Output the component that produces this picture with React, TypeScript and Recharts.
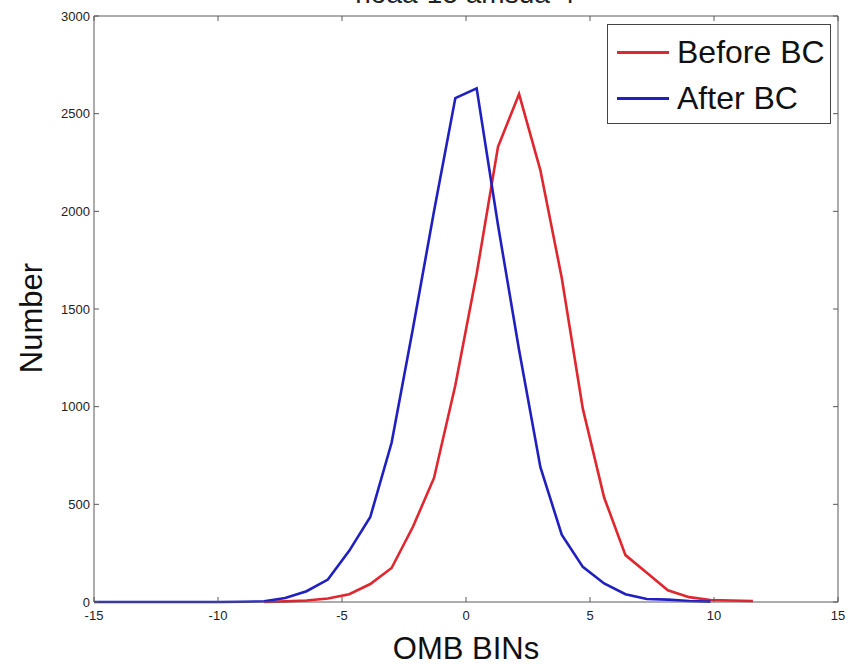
import React from 'react';
import { LineChart, Line, XAxis, YAxis } from 'recharts';

// OMB bin positions (bin edges of 35 bins spanning -15..15)
const ombBins = [
  -15, -14.14, -13.29, -12.43, -11.57, -10.71, -9.86, -9.0, -8.14, -7.29,
  -6.43, -5.57, -4.71, -3.86, -3.0, -2.14, -1.29, -0.43, 0.43, 1.29,
  2.14, 3.0, 3.86, 4.71, 5.57, 6.43, 7.29, 8.14, 9.0, 9.86,
  10.71, 11.57,
];

const beforeBC: (number | null)[] = [
  null, null, null, null, null, null, null, null, 0, 3,
  8, 18, 40, 92, 174, 385, 635, 1110, 1680, 2330,
  2600, 2210, 1660, 990, 535, 240, 150, 60, 25, 10,
  8, 5,
];

const afterBC: (number | null)[] = [
  0, 0, 0, 0, 0, 0, 0, 1, 4, 20,
  55, 115, 262, 435, 815, 1400, 2000, 2580, 2630, 1930,
  1290, 690, 345, 180, 95, 40, 15, 12, 5, 2,
  null, null,
];

const xTicks = [-15, -10, -5, 0, 5, 10, 15];
const yTicks = [0, 500, 1000, 1500, 2000, 2500, 3000];

const legendItems = [
  { name: 'Before BC', color: '#e0262e' },
  { name: 'After BC', color: '#2020c0' },
];

const titleText = 'noaa-15 amsua-4';

const data = ombBins.map((x, i) => ({ x, before: beforeBC[i], after: afterBC[i] }));

const FONT = '"Liberation Sans", Arial, Helvetica, sans-serif';
const AXIS_COLOR = '#5a5a5a';

const NoTick = () => <g />;

const YLabel = (props: any) => {
  const vb = props.viewBox || {};
  const cx = vb.x + 31;
  const cy = vb.y + vb.height / 2 + 9;
  return (
    <text
      x={cx}
      y={cy}
      transform={`rotate(-90, ${cx}, ${cy})`}
      textAnchor="middle"
      dominantBaseline="central"
      fontSize={31}
      fontFamily={FONT}
      fill="#111"
    >
      Number
    </text>
  );
};

export default function App() {
  return (
    <div style={{ position: 'absolute', left: 0, top: 0, width: 852, height: 667, background: '#fff', overflow: 'hidden', fontFamily: FONT }}>
      <div
        style={{
          position: 'absolute',
          left: 0,
          width: 930,
          top: -22,
          textAlign: 'center',
          fontSize: 28,
          color: '#222',
          lineHeight: '32px',
        }}
      >
        {titleText}
      </div>
      <LineChart
        width={852}
        height={667}
        data={data}
        margin={{ top: 15, right: 13, bottom: 0, left: 0 }}
      >
        <XAxis
          dataKey="x"
          type="number"
          domain={[-15, 15]}
          ticks={xTicks}
          allowDataOverflow
          height={65}
          tickSize={-5}
          tickMargin={14}
          stroke={AXIS_COLOR}
          tick={{ fontSize: 13, fill: '#222', fontFamily: FONT }}
          label={{ value: 'OMB BINs', position: 'insideBottom', offset: 8, fontSize: 31, fill: '#111', fontFamily: FONT }}
        />
        <XAxis
          xAxisId="top"
          dataKey="x"
          type="number"
          orientation="top"
          domain={[-15, 15]}
          ticks={xTicks}
          allowDataOverflow
          height={1}
          tickSize={-5}
          stroke={AXIS_COLOR}
          tick={NoTick}
        />
        <YAxis
          domain={[0, 3000]}
          ticks={yTicks}
          width={94}
          tickSize={-5}
          tickMargin={9}
          stroke={AXIS_COLOR}
          tick={{ fontSize: 13, fill: '#222', fontFamily: FONT }}
          label={<YLabel />}
        />
        <YAxis
          yAxisId="right"
          orientation="right"
          domain={[0, 3000]}
          ticks={yTicks}
          width={1}
          tickSize={-5}
          stroke={AXIS_COLOR}
          tick={NoTick}
        />
        <Line
          xAxisId="top"
          yAxisId="right"
          type="linear"
          dataKey="after"
          stroke="none"
          strokeWidth={0}
          dot={false}
          legendType="none"
          isAnimationActive={false}
        />
        <Line
          type="linear"
          dataKey="before"
          stroke={legendItems[0].color}
          strokeWidth={2.6}
          dot={false}
          isAnimationActive={false}
        />
        <Line
          type="linear"
          dataKey="after"
          stroke={legendItems[1].color}
          strokeWidth={2.6}
          dot={false}
          isAnimationActive={false}
        />
      </LineChart>
      <div
        style={{
          position: 'absolute',
          left: 607,
          top: 24,
          width: 224,
          height: 100,
          border: '1px solid #444',
          background: '#fff',
          boxSizing: 'border-box',
        }}
      >
        {legendItems.map((it, i) => (
          <div
            key={it.name}
            style={{
              position: 'absolute',
              left: 9,
              top: i === 0 ? 8 : 54,
              height: 38,
              display: 'flex',
              alignItems: 'center',
              whiteSpace: 'nowrap',
            }}
          >
            <span style={{ display: 'inline-block', width: 52, height: 3, background: it.color, marginRight: 8 }} />
            <span style={{ fontSize: 32, color: '#111', lineHeight: '38px' }}>{it.name}</span>
          </div>
        ))}
      </div>
    </div>
  );
}
